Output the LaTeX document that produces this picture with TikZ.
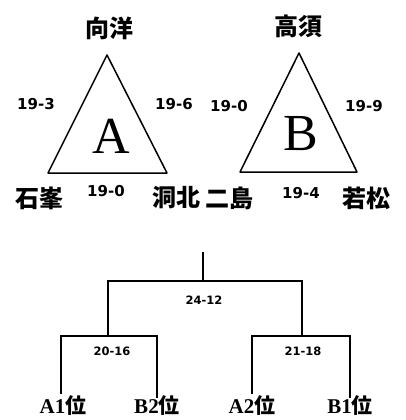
\documentclass[tikz,border=0pt]{standalone}
\usepackage{fontspec}
\newfontfamily\cjk{Noto Sans CJK JP}
\newfontfamily\numf{DejaVu Sans}
\newfontfamily\serf{Liberation Serif}
\tikzset{
  tri/.style={line width=1.5pt, line join=round},
  brk/.style={line width=1.8pt},
  school/.style={font=\fontsize{24}{24}\cjk\bfseries, inner sep=0pt},
  score/.style={font=\fontsize{15}{15}\numf\bfseries, inner sep=0pt},
  bscore/.style={font=\fontsize{11.5}{11.5}\numf\bfseries, inner sep=0pt},
  big/.style={font=\fontsize{52}{52}\serf, inner sep=0pt},
  rank/.style={font=\fontsize{21}{21}\serf\bfseries, inner sep=0pt}
}
\begin{document}
\begin{tikzpicture}[x=1pt,y=-1pt]
\useasboundingbox (0,0) rectangle (405,420);
% Group A
\coordinate (a1) at (107,55);
\coordinate (a2) at (48,173);
\coordinate (a3) at (167,173);
\draw[tri] (a1) -- (a2) -- (a3) -- cycle;
\node[big] (la) at (111,136) {A};
\node[school] (mukai) at (109,28) {向洋};
\node[school] (ishi) at (40,198) {石峯};
\node[school] (dohoku) at (176,198) {洞北};
\node[score] (sa1) at (36,104) {19-3};
\node[score] (sa2) at (174,104) {19-6};
\node[score] (sa3) at (106,191) {19-0};
% Group B
\coordinate (b1) at (299,53);
\coordinate (b2) at (240,172);
\coordinate (b3) at (357,172);
\draw[tri] (b1) -- (b2) -- (b3) -- cycle;
\node[big] (lb) at (301,134) {B};
\node[school] (takasu) at (298,26) {高須};
\node[school] (futa) at (229,198) {二島};
\node[school] (waka) at (366,198) {若松};
\node[score] (sb1) at (229,106) {19-0};
\node[score] (sb2) at (364,106) {19-9};
\node[score] (sb3) at (301,193) {19-4};
% Bracket
\coordinate (top) at (203,252);
\coordinate (m) at (203,281);
\coordinate (ml) at (108,281);
\coordinate (mr) at (302,281);
\coordinate (l) at (108,336);
\coordinate (r) at (302,336);
\coordinate (ll) at (61,336);
\coordinate (lr) at (157,336);
\coordinate (rl) at (252,336);
\coordinate (rr) at (350,336);
\node[rank] (p1) at (63,406) {A1\cjk 位};
\node[rank] (p2) at (157,406) {B2\cjk 位};
\node[rank] (p3) at (252,406) {A2\cjk 位};
\node[rank] (p4) at (350,406) {B1\cjk 位};
\draw[brk] (top) -- (m);
\draw[brk] (l) -- (ml) -- (mr) -- (r);
\draw[brk] (p1.north -| ll) ++(0,-2) -- (ll) -- (lr) -- ([yshift=-2pt]p2.north -| lr);
\draw[brk] (p3.north -| rl) ++(0,-2) -- (rl) -- (rr) -- ([yshift=-2pt]p4.north -| rr);
\node[bscore] (s1) at (204,300) {24-12};
\node[bscore] (s2) at (112,351) {20-16};
\node[bscore] (s3) at (303,351) {21-18};
\end{tikzpicture}
\end{document}
